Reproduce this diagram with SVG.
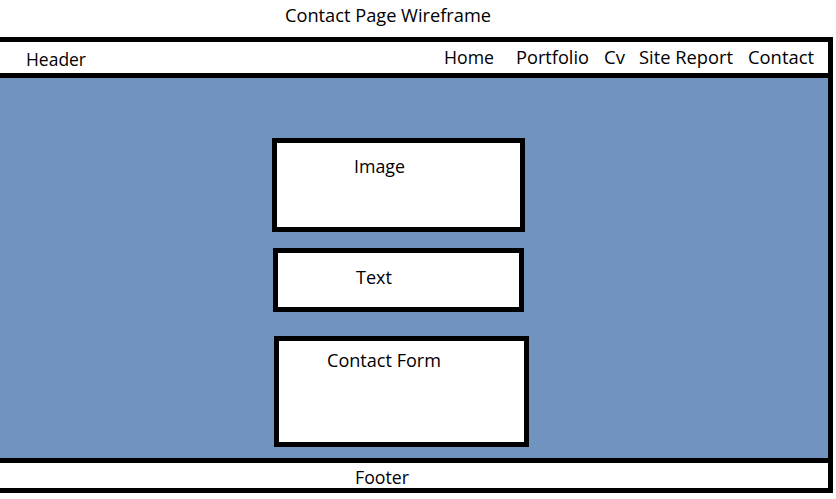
<svg xmlns="http://www.w3.org/2000/svg" width="836" height="499" viewBox="0 0 836 499">
<style>
.t{font-family:"Open Sans","Liberation Sans",sans-serif;font-size:17.5px;fill:#000}
.box{fill:#fff;stroke:#000;stroke-width:5}
</style>
<rect x="0" y="0" width="836" height="499" fill="#fff"/>
<text class="t" x="285" y="22" textLength="206" lengthAdjust="spacingAndGlyphs">Contact Page Wireframe</text>
<g id="page">
<rect x="0" y="37" width="833" height="456" fill="#000"/>
</g>
<g id="header">
<rect x="0" y="42" width="828" height="31" fill="#fff"/>
<text class="t" x="26" y="66" textLength="60" lengthAdjust="spacingAndGlyphs">Header</text>
<text class="t" x="444" y="64" textLength="50" lengthAdjust="spacingAndGlyphs">Home</text>
<text class="t" x="516" y="64" textLength="73" lengthAdjust="spacingAndGlyphs">Portfolio</text>
<text class="t" x="604" y="64" textLength="21" lengthAdjust="spacingAndGlyphs">Cv</text>
<text class="t" x="639" y="64" textLength="94" lengthAdjust="spacingAndGlyphs">Site Report</text>
<text class="t" x="748" y="64" textLength="66" lengthAdjust="spacingAndGlyphs">Contact</text>
</g>
<g id="body">
<rect x="0" y="78" width="828" height="380" fill="#7193BF"/>
</g>
<g id="image">
<rect class="box" x="274.5" y="140.5" width="248" height="89"/>
<text class="t" x="354" y="173" textLength="51" lengthAdjust="spacingAndGlyphs">Image</text>
</g>
<g id="text">
<rect class="box" x="275.5" y="250.5" width="246" height="59"/>
<text class="t" x="356" y="284" textLength="36" lengthAdjust="spacingAndGlyphs">Text</text>
</g>
<g id="contact-form">
<rect class="box" x="276.5" y="338.5" width="250" height="106"/>
<text class="t" x="327" y="367" textLength="114" lengthAdjust="spacingAndGlyphs">Contact Form</text>
</g>
<g id="footer">
<rect x="0" y="463" width="828" height="25" fill="#fff"/>
<text class="t" x="355" y="484" textLength="54" lengthAdjust="spacingAndGlyphs">Footer</text>
</g>
<g id="connectors"/>
</svg>
